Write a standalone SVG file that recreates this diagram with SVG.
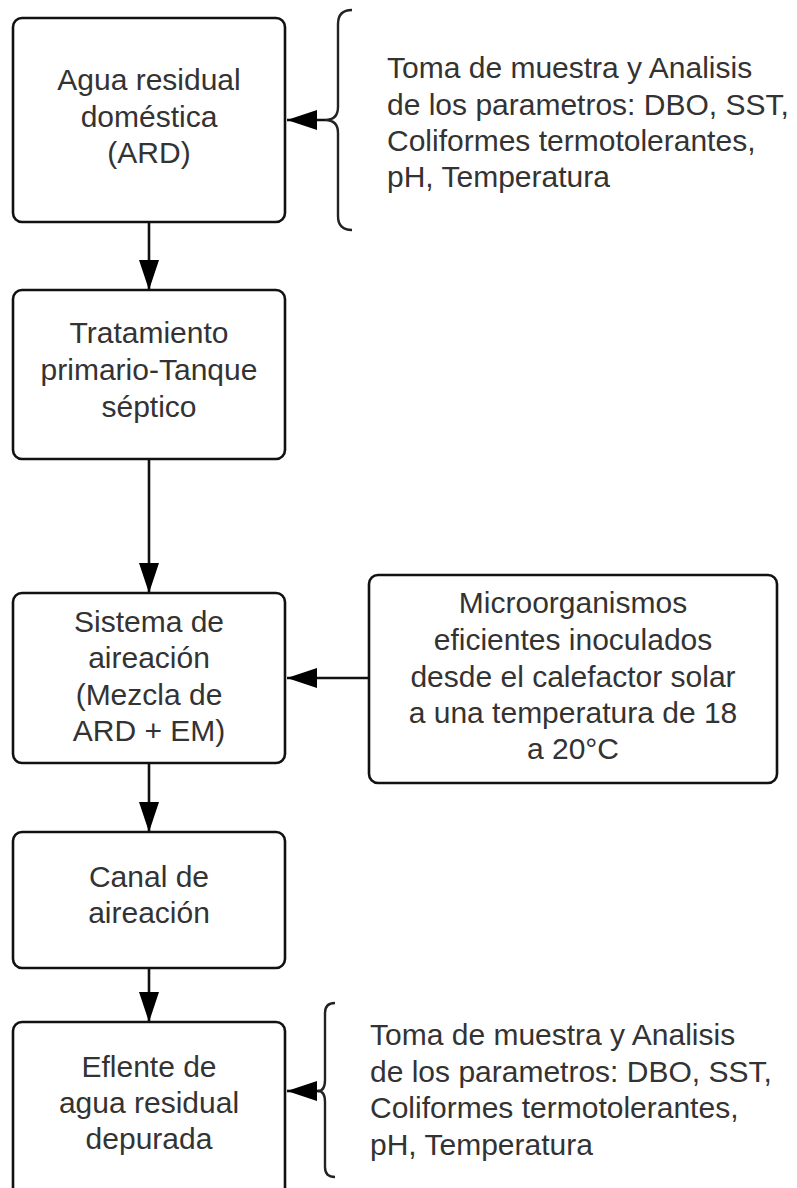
<svg xmlns="http://www.w3.org/2000/svg" width="797" height="1188" viewBox="0 0 797 1188">
<style>
.box{fill:#fff;stroke:#111;stroke-width:2.6}
.t{font-family:"Liberation Sans",Arial,sans-serif;font-size:30px;fill:#333}
.c{text-anchor:middle}
.ln{fill:none;stroke:#111;stroke-width:2.6}
.br{fill:none;stroke:#222;stroke-width:2.4}
</style>
<defs>
<marker id="ah" markerUnits="userSpaceOnUse" markerWidth="32" markerHeight="22" refX="30" refY="10" orient="auto">
<path d="M0,0 L30,10 L0,20 Z" fill="#000"/>
</marker>
</defs>
<rect width="797" height="1188" fill="#fff"/>
<g id="connectors">
<line class="ln" x1="149" y1="222" x2="149" y2="290" marker-end="url(#ah)"/>
<line class="ln" x1="149" y1="459" x2="149" y2="593" marker-end="url(#ah)"/>
<line class="ln" x1="149" y1="763" x2="149" y2="832" marker-end="url(#ah)"/>
<line class="ln" x1="149" y1="968" x2="149" y2="1022" marker-end="url(#ah)"/>
<line class="ln" x1="369" y1="678" x2="287" y2="678" marker-end="url(#ah)"/>
<line class="ln" x1="325" y1="120" x2="287" y2="120" marker-end="url(#ah)"/>
<line class="ln" x1="319" y1="1091" x2="287" y2="1091" marker-end="url(#ah)"/>
</g>
<g id="n1">
<rect class="box" x="13" y="18" width="272" height="204" rx="9"/>
<text class="t c" x="149" y="90">Agua residual</text>
<text class="t c" x="149" y="127">doméstica</text>
<text class="t c" x="149" y="163">(ARD)</text>
</g>
<g id="n2">
<rect class="box" x="13" y="290" width="272" height="169" rx="9"/>
<text class="t c" x="149" y="343">Tratamiento</text>
<text class="t c" x="149" y="380">primario-Tanque</text>
<text class="t c" x="149" y="417">séptico</text>
</g>
<g id="n3">
<rect class="box" x="13" y="593" width="272" height="170" rx="9"/>
<text class="t c" x="149" y="632">Sistema de</text>
<text class="t c" x="149" y="668">aireación</text>
<text class="t c" x="149" y="705">(Mezcla de</text>
<text class="t c" x="149" y="741">ARD + EM)</text>
</g>
<g id="n4">
<rect class="box" x="369" y="575" width="408" height="208" rx="9"/>
<text class="t c" x="573" y="613">Microorganismos</text>
<text class="t c" x="573" y="650">eficientes inoculados</text>
<text class="t c" x="573" y="687">desde el calefactor solar</text>
<text class="t c" x="573" y="723">a una temperatura de 18</text>
<text class="t c" x="573" y="759">a 20°C</text>
</g>
<g id="n5">
<rect class="box" x="13" y="832" width="272" height="136" rx="9"/>
<text class="t c" x="149" y="887">Canal de</text>
<text class="t c" x="149" y="923">aireación</text>
</g>
<g id="n6">
<rect class="box" x="13" y="1022" width="272" height="190" rx="9"/>
<text class="t c" x="149" y="1077">Eflente de</text>
<text class="t c" x="149" y="1113">agua residual</text>
<text class="t c" x="149" y="1149">depurada</text>
</g>
<g id="note1">
<path class="br" d="M352,10 Q338,10 338,24 L338,107 Q338,120 325,120 Q338,120 338,133 L338,216 Q338,230 352,230"/>
<text class="t" x="387" y="78">Toma de muestra y Analisis</text>
<text class="t" x="387" y="115">de los parametros: DBO, SST,</text>
<text class="t" x="387" y="151">Coliformes termotolerantes,</text>
<text class="t" x="387" y="187">pH, Temperatura</text>
</g>
<g id="note2">
<path class="br" d="M335,1003 Q325,1003 325,1013 L325,1080 Q325,1091 318,1091 Q325,1091 325,1102 L325,1167 Q325,1177 335,1177"/>
<text class="t" x="370" y="1045">Toma de muestra y Analisis</text>
<text class="t" x="370" y="1082">de los parametros: DBO, SST,</text>
<text class="t" x="370" y="1118">Coliformes termotolerantes,</text>
<text class="t" x="370" y="1155">pH, Temperatura</text>
</g>
</svg>
